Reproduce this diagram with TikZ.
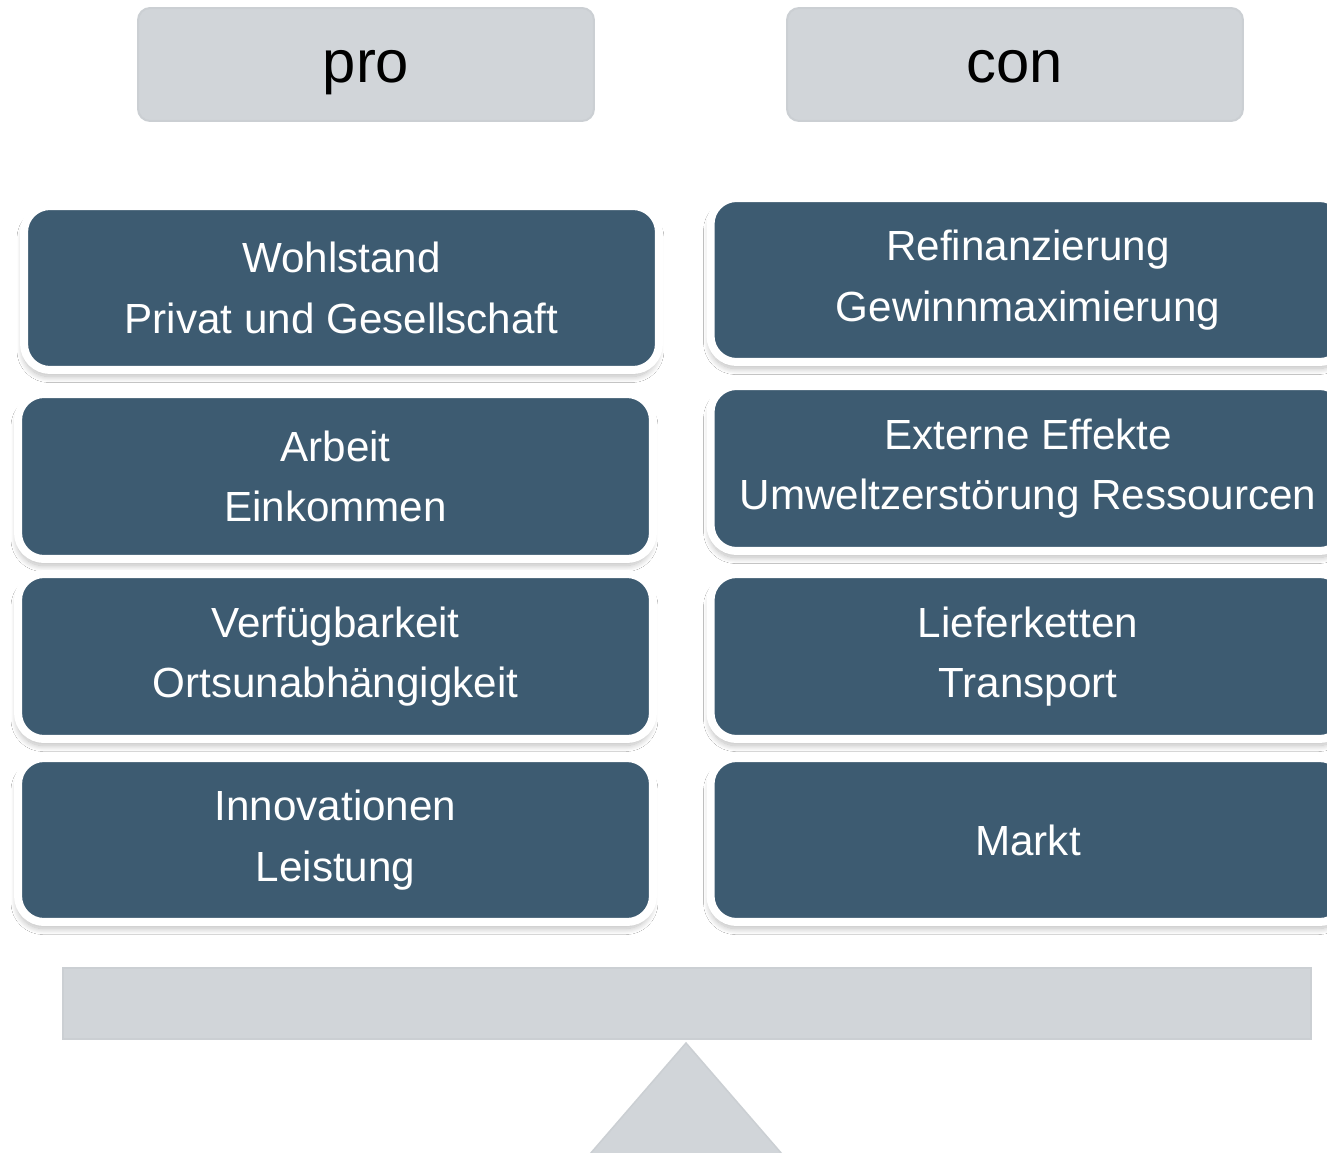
\documentclass[tikz,border=0pt]{standalone}
\usepackage{fontspec}
\setmainfont{Liberation Sans}
\usetikzlibrary{shadows.blur}
\definecolor{boxblue}{HTML}{3D5B71}
\definecolor{lgray}{HTML}{D1D5D9}
\definecolor{lgrayline}{HTML}{CBCFD3}
\begin{document}
\begin{tikzpicture}[x=0.02cm,y=-0.02cm,
  hdr/.style={rectangle, rounded corners=0.24cm, fill=lgray, draw=lgrayline, line width=0.04cm,
    minimum width=9.12cm, minimum height=2.26cm, inner sep=0pt, text height=21pt, text depth=0pt,
    font=\fontsize{34}{40}\selectfont, text=black},
  card/.style={rectangle, rounded corners=0.52cm, fill=boxblue, draw=white, line width=0.16cm,
    minimum width=12.7cm, inner sep=0pt, align=center, text=white,
    font=\fontsize{24}{34.6}\selectfont,
    blur shadow={shadow xshift=-0.02cm, shadow yshift=-0.13cm, shadow blur steps=30, shadow opacity=28, shadow blur radius=0.12cm}},
  bar/.style={fill=lgray, draw=lgrayline, line width=0.03cm}
]
\useasboundingbox (0,0) rectangle (1327,1152);
\fill[white] (0,0) rectangle (1327,1152);

% headers
\node[hdr] (pro) at (366,64.5) {pro};
\node[hdr] (con) at (1015,64.5) {con};

% left cards
\node[card, minimum height=3.28cm] (l1) at (341.5,288) {Wohlstand\\Privat und Gesellschaft};
\node[card, minimum height=3.30cm] (l2) at (335.5,476.5) {Arbeit\\Einkommen};
\node[card, minimum height=3.30cm] (l3) at (335.5,656.5) {Verfügbarkeit\\Ortsunabhängigkeit};
\node[card, minimum height=3.28cm] (l4) at (335.5,840) {Innovationen\\Leistung};

% right cards
\node[card, minimum height=3.28cm] (r1) at (1028,280) {Refinanzierung\\Gewinnmaximierung};
\node[card, minimum height=3.30cm] (r2) at (1028,468.5) {Externe Effekte\\Umweltzerstörung Ressourcen};
\node[card, minimum height=3.30cm] (r3) at (1028,656.5) {Lieferketten\\Transport};
\node[card, minimum height=3.28cm] (r4) at (1028,840) {Markt};

% scale beam and fulcrum
\draw[bar] (63,968) rectangle (1311,1039);
\draw[bar] (686,1043) -- (782,1154) -- (590,1154) -- cycle;
\end{tikzpicture}
\end{document}
